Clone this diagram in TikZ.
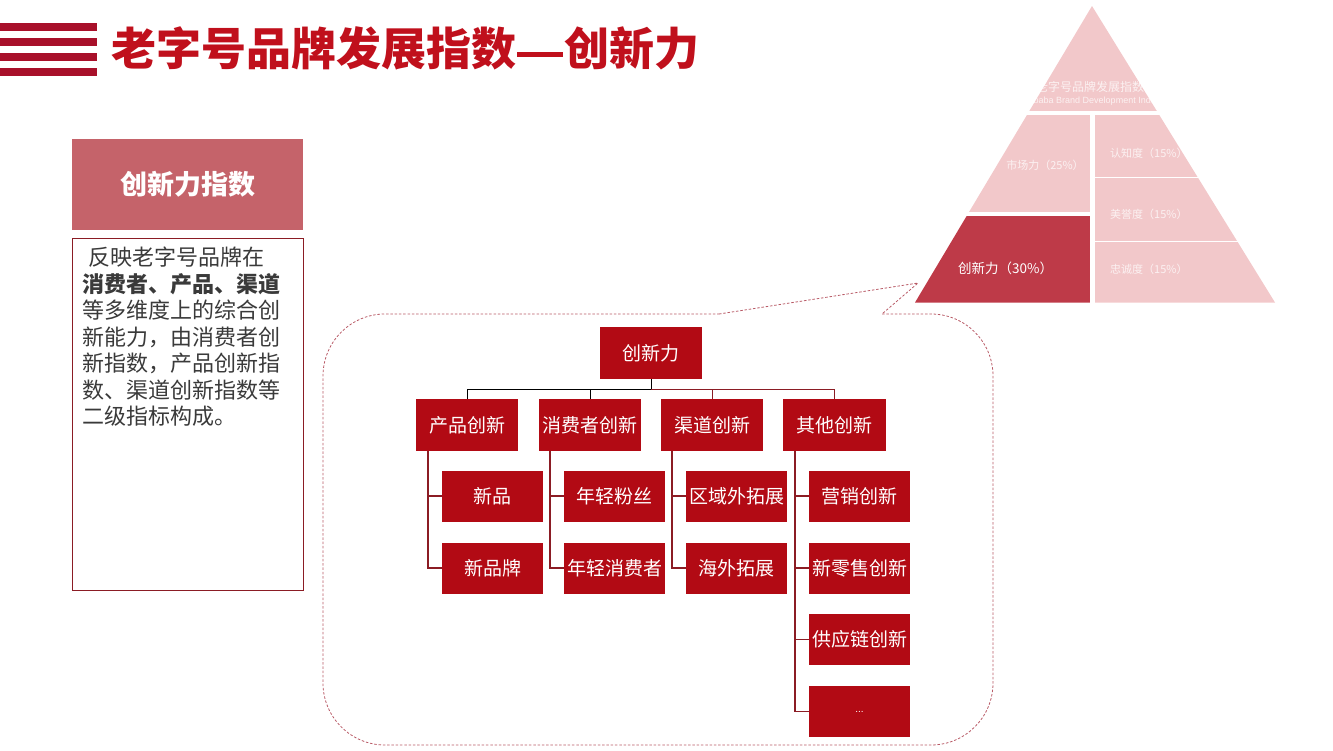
\documentclass[tikz,border=0pt]{standalone}
\usepackage{fontspec}
\newfontfamily\cjk{Noto Sans CJK SC}
\newfontfamily\lat{Liberation Sans}
\definecolor{titlered}{HTML}{C0101C}
\definecolor{stripe}{HTML}{A8102A}
\definecolor{boxred}{HTML}{B20A14}
\definecolor{headrose}{HTML}{C5636A}
\definecolor{pinklight}{HTML}{F2C8CA}
\definecolor{pinkdark}{HTML}{BE3A48}
\definecolor{linkred}{HTML}{8B1C24}
\definecolor{txtgray}{HTML}{3A3A3A}
\definecolor{dashred}{HTML}{B85A66}
\tikzset{
  orgbox/.style={fill=boxred, text=white, minimum width=102, minimum height=52, inner sep=0,
    font=\cjk\fontsize{19}{19}\selectfont},
  subbox/.style={orgbox, minimum width=101, minimum height=51},
  conn/.style={draw=linkred, line width=1.2},
  desc/.style={anchor=west, inner sep=0, text=txtgray, font=\cjk\fontsize{22}{22}\selectfont},
  pyrtxt/.style={text=white, text opacity=0.75, inner sep=0, font=\cjk\fontsize{11}{11}\selectfont},
  callout/.style={dashred, line width=0.8, dash pattern=on 2.5pt off 1.8pt},
}
\begin{document}
\begin{tikzpicture}[x=1pt,y=-1pt]
\useasboundingbox (0,0) rectangle (1333,750);
% title stripes
\foreach \yy in {23,38,53,68}{
  \fill[stripe] (0,\yy) rectangle (97,\yy+7.5);
}
\node[anchor=west, inner sep=0, text=titlered, font=\cjk\bfseries\fontsize{45}{45}\selectfont] (title) at (111,48) {老字号品牌发展指数\hspace{1pt}\rule[8.5pt]{46pt}{4.5pt}\hspace{1pt}创新力};

% left header and description
\node[fill=headrose, minimum width=231, minimum height=91, inner sep=0, text=white,
  font=\cjk\bfseries\fontsize{27}{27}\selectfont] (head) at (187.5,184.5) {创新力指数};
\node[draw=linkred, line width=0.9, minimum width=231, minimum height=352, inner sep=0] (descbox) at (187.5,414) {};
\node[desc] (d1) at (88,257) {反映老字号品牌在};
\node[desc, font=\cjk\bfseries\fontsize{22}{22}\selectfont] (d2) at (82,284) {消费者、产品、渠道};
\node[desc] (d3) at (82,310) {等多维度上的综合创};
\node[desc] (d4) at (82,337) {新能力，由消费者创};
\node[desc] (d5) at (82,363) {新指数，产品创新指};
\node[desc] (d6) at (82,390) {数、渠道创新指数等};
\node[desc] (d7) at (82,416) {二级指标构成。};

% pyramid
\begin{scope}
  \clip (1092,6) -- (915,302.5) -- (1275,302.5) -- cycle;
  \fill[pinklight] (900,0) rectangle (1290,111);
  \fill[pinklight] (900,115) rectangle (1090,212);
  \fill[pinkdark]  (900,216) rectangle (1090,303);
  \fill[pinklight] (1095,115) rectangle (1290,176.5);
  \fill[pinklight] (1095,177.5) rectangle (1290,240.5);
  \fill[pinklight] (1095,241.5) rectangle (1290,303);
\end{scope}
\node[pyrtxt, font=\cjk\fontsize{12}{12}\selectfont] (pt1) at (1090,87) {老字号品牌发展指数};
\node[pyrtxt, font=\lat\fontsize{9}{9}\selectfont] (pt2) at (1092,101) {Alibaba Brand Development Index};
\node[pyrtxt] (pm) at (1045,165) {市场力（25\%）};
\node[pyrtxt, anchor=west] (pa) at (1110,153) {认知度（15\%）};
\node[pyrtxt, anchor=west] (pb) at (1110,214) {美誉度（15\%）};
\node[pyrtxt, anchor=west] (pc) at (1110,269) {忠诚度（15\%）};
\node[inner sep=0, anchor=west, text=white, font=\cjk\fontsize{13.5}{13.5}\selectfont] (pi) at (958,268) {创新力（30\%）};

% callout
\coordinate (tip) at (918,283);
\coordinate (cl) at (719,314);
\coordinate (cr) at (882,314);
\draw[callout, rounded corners=62]
  (cr) -- (993,314) -- (993,745) -- (323,745) -- (323,314) -- (cl);
\draw[callout] (cl) -- (tip) -- (cr);

% org chart
\node[orgbox] (root) at (651,353) {创新力};
\node[orgbox] (p) at (467,425) {产品创新};
\node[orgbox] (c) at (590,425) {消费者创新};
\node[orgbox] (q) at (712,425) {渠道创新};
\node[orgbox, minimum width=103] (o) at (834.5,425) {其他创新};

\coordinate (bus) at (651,389);
\draw[black, line width=1] (root.south) -- (bus);
\draw[black, line width=1] (p.north) |- (bus);
\draw[black, line width=1] (c.north) |- (bus);
\draw[linkred, line width=1] (q.north) |- (bus);
\draw[linkred, line width=1] (o.north) |- (bus);

\node[subbox] (p1) at (492.5,496) {新品};
\node[subbox] (p2) at (492.5,568) {新品牌};
\node[subbox] (c1) at (614.5,496) {年轻粉丝};
\node[subbox] (c2) at (614.5,568) {年轻消费者};
\node[subbox] (q1) at (736.5,496) {区域外拓展};
\node[subbox] (q2) at (736.5,568) {海外拓展};
\node[subbox] (o1) at (859.5,496) {营销创新};
\node[subbox] (o2) at (859.5,568) {新零售创新};
\node[subbox] (o3) at (859.5,639.5) {供应链创新};
\node[subbox, font=\lat\fontsize{10}{10}\selectfont] (o4) at (859.5,711.5) {...};

\draw[conn] ([xshift=-39pt]p.south) |- (p1.west);
\draw[conn] ([xshift=-39pt]p.south) |- (p2.west);
\draw[conn] ([xshift=-40pt]c.south) |- (c1.west);
\draw[conn] ([xshift=-40pt]c.south) |- (c2.west);
\draw[conn] ([xshift=-40pt]q.south) |- (q1.west);
\draw[conn] ([xshift=-40pt]q.south) |- (q2.west);
\draw[conn] ([xshift=-39.5pt]o.south) |- (o1.west);
\draw[conn] ([xshift=-39.5pt]o.south) |- (o2.west);
\draw[conn] ([xshift=-39.5pt]o.south) |- (o3.west);
\draw[conn] ([xshift=-39.5pt]o.south) |- (o4.west);
\end{tikzpicture}
\end{document}
